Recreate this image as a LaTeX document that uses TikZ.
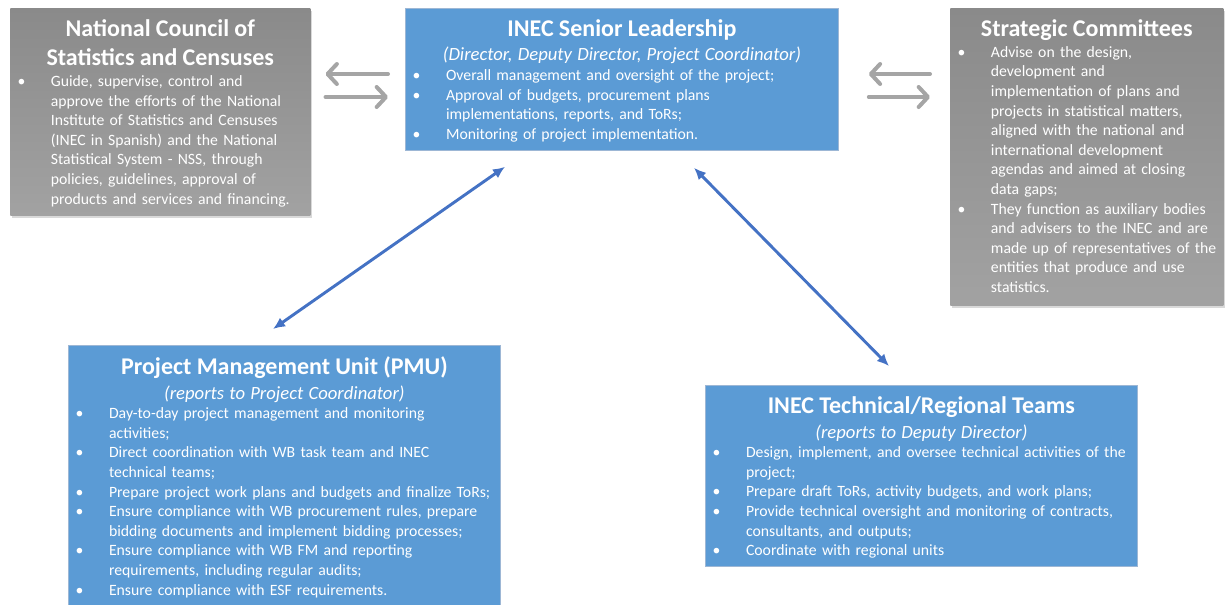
\documentclass[tikz,border=0pt]{standalone}
\usepackage{fontspec}
\setmainfont{Carlito}
\usetikzlibrary{arrows.meta,calc,shadows}
\definecolor{OrgBlue}{HTML}{5B9BD5}
\definecolor{OrgBlueEdge}{HTML}{9DB7D5}
\definecolor{OrgGrayTop}{HTML}{8A8A8A}
\definecolor{OrgGrayBot}{HTML}{A2A2A2}
\definecolor{OrgLink}{HTML}{4472C4}
\definecolor{OrgSwap}{HTML}{A5A5A5}
\newdimen\px \px=0.75pt
\newcommand{\orgTitle}{\bfseries\fontsize{18}{21.75}\selectfont}
\newcommand{\orgSub}{\itshape\fontsize{14}{18.5}\selectfont}
\newcommand{\orgBody}{\fontsize{11.8}{14.7}\selectfont}
\newcommand{\bitem}[1]{\par\hangindent=30.5pt\hangafter=1\noindent\makebox[30.5pt][l]{\hspace{5.5pt}\textbullet}#1}

\begin{document}
\begin{tikzpicture}[x=0.75pt,y=-0.75pt,
    graybox/.style={rectangle,anchor=north west,inner sep=0pt,
      top color=OrgGrayTop,bottom color=OrgGrayBot,
      drop shadow={shadow xshift=1.5pt,shadow yshift=-2pt,opacity=0.3}},
    bluebox/.style={rectangle,anchor=north west,inner sep=0pt,
      draw=OrgBlueEdge,line width=0.6pt,fill=OrgBlue},
    boxtext/.style={anchor=north,text=white,inner sep=0pt,
      align=left,font=\orgBody},
    swap/.style={OrgSwap,line width=3pt,line cap=round,
      -{Straight Barb[length=7pt,width=15pt,round]}},
    link/.style={OrgLink,line width=2.2pt,{Latex[length=9pt,width=8pt]}-{Latex[length=9pt,width=8pt]}}]
  \useasboundingbox (0,0) rectangle (1225,604);

  % boxes
  \node[graybox,minimum width=300\px,minimum height=207\px] (ncsc) at (10,8) {};
  \node[bluebox,minimum width=433\px,minimum height=142\px] (lead) at (405,8) {};
  \node[graybox,minimum width=273\px,minimum height=297\px] (strat) at (950,8) {};
  \node[bluebox,minimum width=432\px,minimum height=265\px] (pmu) at (68,345) {};
  \node[bluebox,minimum width=432\px,minimum height=181\px] (tech) at (705,385) {};

  % box contents
  \node[boxtext,text width=300\px] (ncscText) at ([yshift=-8.5pt]ncsc.north) {%
    {\centering\orgTitle National Council of\\Statistics and Censuses\par}\vspace{1pt}
    \bitem{Guide, supervise, control and\newline approve the efforts of the National\newline Institute of Statistics and Censuses\newline (INEC in Spanish) and the National\newline Statistical System - NSS, through\newline policies, guidelines, approval of\newline products and services and financing.}\par};

  \node[boxtext,text width=433\px] (leadText) at ([yshift=-8.5pt]lead.north) {%
    {\centering\orgTitle INEC Senior Leadership\par}
    {\centering\orgSub\fontsize{14}{18}\selectfont (Director, Deputy Director, Project Coordinator)\par}\vspace{0.5pt}
    \bitem{Overall management and oversight of the project;}
    \bitem{Approval of budgets, procurement plans\newline implementations, reports, and ToRs;}
    \bitem{Monitoring of project implementation.}\par};

  \node[boxtext,text width=273\px] (stratText) at ([yshift=-8.5pt]strat.north) {%
    {\centering\orgTitle Strategic Committees\par}\vspace{1pt}
    \bitem{Advise on the design,\newline development and\newline implementation of plans and\newline projects in statistical matters,\newline aligned with the national and\newline international development\newline agendas and aimed at closing\newline data gaps;}
    \bitem{They function as auxiliary bodies\newline and advisers to the INEC and are\newline made up of representatives of the\newline entities that produce and use\newline statistics.}\par};

  \node[boxtext,text width=432\px] (pmuText) at ([yshift=-8.5pt]pmu.north) {%
    {\centering\orgTitle Project Management Unit (PMU)\par}
    {\centering\orgSub (reports to Project Coordinator)\par}
    \bitem{Day-to-day project management and monitoring\newline activities;}
    \bitem{Direct coordination with WB task team and INEC\newline technical teams;}
    \bitem{Prepare project work plans and budgets and finalize ToRs;}
    \bitem{Ensure compliance with WB procurement rules, prepare\newline bidding documents and implement bidding processes;}
    \bitem{Ensure compliance with WB FM and reporting\newline requirements, including regular audits;}
    \bitem{Ensure compliance with ESF requirements.}\par};

  \node[boxtext,text width=432\px] (techText) at ([yshift=-8.5pt]tech.north) {%
    {\centering\orgTitle INEC Technical/Regional Teams\par}
    {\centering\orgSub (reports to Deputy Director)\par}
    \bitem{Design, implement, and oversee technical activities of the\newline project;}
    \bitem{Prepare draft ToRs, activity budgets, and work plans;}
    \bitem{Provide technical oversight and monitoring of contracts,\newline consultants, and outputs;}
    \bitem{Coordinate with regional units}\par};

  % two-way exchange with the advisory bodies
  \draw[swap] ([shift={(-17,66)}]lead.north west) -- ([shift={(15,66)}]ncsc.north east);
  \draw[swap] ([shift={(15,89)}]ncsc.north east) -- ([shift={(-17,89)}]lead.north west);
  \draw[swap] ([shift={(-20,66)}]strat.north west) -- ([shift={(30,66)}]lead.north east);
  \draw[swap] ([shift={(30,89)}]lead.north east) -- ([shift={(-20,89)}]strat.north west);

  % reporting lines
  \draw[link] ([shift={(100,16)}]lead.south west) -- ([shift={(205,-16)}]pmu.north west);
  \draw[link] ([shift={(289,17)}]lead.south west) -- ([shift={(184,-19)}]tech.north west);
\end{tikzpicture}
\end{document}
